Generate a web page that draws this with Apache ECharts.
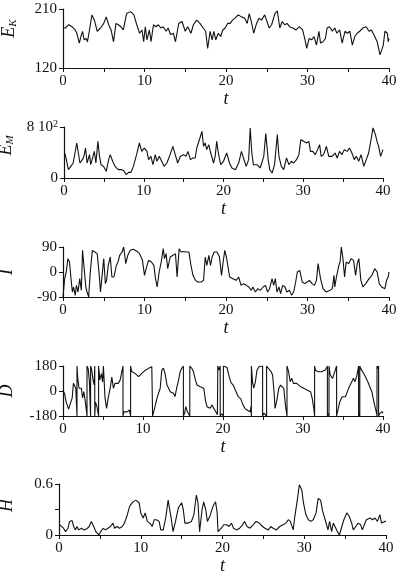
<!DOCTYPE html>
<html>
<head>
<meta charset="utf-8">
<script src="https://cdn.jsdelivr.net/npm/echarts@6/dist/echarts.min.js"></script>
<style>
  html, body { margin: 0; padding: 0; background: #fff; }
  #chart { width: 398px; height: 587px; }
</style>
</head>
<body>
<div id="chart"></div>
<script>
// time stamps and values, one pair of arrays per panel
var ekT = [0, 0.3, 0.7, 1.1, 1.5, 1.7, 2.0, 2.2, 2.4, 2.6, 2.85, 3.0, 3.25, 3.55, 3.85, 4.2, 4.6, 5.0, 5.3, 5.6, 5.9, 6.2, 6.5, 6.8, 7.1, 7.4, 7.8, 8.3, 8.7, 9.05, 9.4, 9.7, 9.9, 10.1, 10.3, 10.6, 10.8, 11.1, 11.4, 11.7, 12.0, 12.3, 12.65, 12.9, 13.2, 13.55, 13.8, 14.2, 14.6, 15.0, 15.3, 15.7, 16.0, 16.4, 16.8, 17.2, 17.5, 17.75, 18.05, 18.3, 18.5, 18.75, 19.05, 19.35, 19.6, 19.9, 20.2, 20.5, 20.8, 21.1, 21.5, 21.9, 22.3, 22.6, 22.85, 23.1, 23.4, 23.75, 24.05, 24.35, 24.75, 24.95, 25.3, 25.6, 26.0, 26.3, 26.6, 26.9, 27.2, 27.5, 27.8, 28.2, 28.6, 29.0, 29.4, 29.7, 29.9, 30.2, 30.5, 30.8, 31.1, 31.4, 31.6, 31.9, 32.2, 32.4, 32.7, 33.05, 33.35, 33.6, 33.95, 34.25, 34.6, 34.9, 35.2, 35.5, 35.8, 36.1, 36.4, 36.8, 37.2, 37.55, 37.85, 38.25, 38.55, 38.9, 39.1, 39.3, 39.5, 39.8, 39.9, 40];
var ekV = [181, 181, 186, 183, 178, 173, 158, 168, 176, 163, 165, 160, 178, 201, 193, 176, 181, 188, 198, 186, 178, 160, 188, 186, 183, 178, 203, 206, 201, 186, 173, 178, 160, 183, 163, 178, 160, 186, 183, 186, 181, 183, 176, 181, 171, 173, 160, 188, 191, 176, 183, 173, 186, 193, 188, 181, 176, 150, 176, 163, 176, 163, 173, 168, 178, 181, 188, 188, 193, 196, 201, 198, 196, 188, 203, 191, 173, 188, 196, 193, 201, 203, 181, 186, 203, 207, 181, 191, 186, 188, 183, 181, 178, 183, 178, 163, 150, 165, 163, 168, 155, 176, 158, 160, 165, 181, 183, 176, 181, 173, 178, 158, 176, 173, 176, 155, 168, 173, 176, 181, 183, 176, 178, 168, 160, 140, 139, 155, 176, 173, 160, 165];

var emT = [0.1, 0.25, 0.55, 0.85, 1.15, 1.35, 1.6, 1.8, 2.0, 2.3, 2.5, 2.7, 2.9, 3.2, 3.35, 3.55, 3.8, 4.0, 4.25, 4.45, 4.65, 4.95, 5.3, 5.6, 5.8, 6.1, 6.4, 6.8, 7.25, 7.55, 7.8, 8.1, 8.4, 8.7, 9.1, 9.45, 9.75, 10.05, 10.4, 10.6, 10.9, 11.15, 11.45, 11.65, 11.95, 12.25, 12.55, 12.9, 13.3, 13.65, 13.95, 14.25, 14.6, 15.0, 15.3, 15.55, 15.85, 16.15, 16.45, 16.65, 16.85, 17.05, 17.3, 17.5, 17.7, 17.9, 18.15, 18.4, 18.75, 18.95, 19.15, 19.35, 19.65, 20.0, 20.4, 20.75, 21.05, 21.5, 21.9, 22.25, 22.5, 22.85, 23.15, 23.35, 23.55, 23.75, 24.2, 24.6, 25.05, 25.3, 25.6, 25.8, 26.1, 26.4, 26.75, 26.95, 27.25, 27.55, 27.9, 28.2, 28.5, 28.8, 29.15, 29.45, 29.7, 30.05, 30.4, 30.7, 30.9, 31.2, 31.5, 31.8, 32.05, 32.25, 32.55, 32.9, 33.2, 33.6, 34.0, 34.25, 34.55, 34.85, 35.15, 35.5, 35.8, 36.1, 36.4, 36.65, 36.95, 37.25, 37.6, 37.9, 38.2, 38.5, 38.75, 39.05, 39.25, 39.45, 39.7, 39.9, 40];
var emV = [392, 314, 131, 183, 235, 262, 549, 523, 235, 288, 340, 471, 235, 366, 209, 235, 418, 235, 575, 340, 209, 183, 105, 288, 366, 262, 183, 131, 131, 105, 52, 89, 89, 183, 366, 549, 418, 471, 418, 288, 340, 209, 366, 262, 340, 262, 183, 235, 366, 497, 366, 235, 340, 366, 340, 418, 288, 314, 314, 471, 549, 523, 732, 497, 549, 445, 523, 392, 235, 340, 575, 392, 209, 262, 392, 235, 157, 131, 235, 418, 314, 183, 288, 785, 392, 209, 209, 157, 340, 696, 288, 131, 78, 209, 680, 340, 183, 131, 314, 209, 262, 235, 288, 366, 601, 575, 549, 575, 418, 418, 366, 445, 523, 340, 366, 497, 340, 340, 392, 314, 418, 366, 445, 418, 471, 392, 288, 340, 262, 366, 183, 288, 392, 601, 785, 680, 575, 497, 340, 366, 445];

var iT = [0, 0.2, 0.4, 0.6, 0.8, 1.0, 1.15, 1.3, 1.5, 1.65, 1.85, 2.05, 2.25, 2.4, 2.6, 2.8, 2.95, 3.15, 3.35, 3.6, 3.9, 4.2, 4.45, 4.6, 4.8, 5.0, 5.2, 5.35, 5.55, 5.8, 6.0, 6.25, 6.55, 6.75, 6.95, 7.25, 7.45, 7.7, 7.95, 8.25, 8.65, 9.1, 9.4, 9.75, 10.0, 10.2, 10.5, 10.85, 11.15, 11.35, 11.55, 11.8, 12.05, 12.3, 12.45, 12.65, 12.85, 13.15, 13.5, 13.8, 14.0, 14.25, 14.5, 14.8, 15.1, 15.45, 15.7, 15.95, 16.25, 16.55, 16.95, 17.25, 17.45, 17.65, 17.9, 18.1, 18.3, 18.55, 18.9, 19.2, 19.45, 19.65, 19.85, 20.05, 20.25, 20.45, 20.85, 21.25, 21.55, 21.85, 22.15, 22.5, 22.8, 23.1, 23.3, 23.6, 23.9, 24.2, 24.55, 24.85, 25.1, 25.35, 25.65, 25.85, 26.05, 26.25, 26.5, 26.7, 26.95, 27.25, 27.45, 27.8, 28.05, 28.3, 28.55, 28.75, 29.05, 29.35, 29.65, 29.95, 30.25, 30.55, 30.85, 31.1, 31.3, 31.6, 31.9, 32.3, 32.75, 33.05, 33.25, 33.35, 33.55, 33.85, 34.0, 34.15, 34.35, 34.55, 34.75, 35.05, 35.35, 35.65, 35.9, 36.1, 36.3, 36.55, 36.8, 37.15, 37.55, 37.9, 38.25, 38.55, 38.8, 39.1, 39.3, 39.5, 39.7, 39.9, 40];
var iV = [-90, -24, 0, 48, 36, -30, -72, -54, -84, -48, -72, -24, -66, 78, 72, -54, -72, -90, 0, 78, 72, 66, -12, -72, -12, 48, -42, -30, 24, 54, -18, -18, 24, 36, 60, 72, 90, 30, 60, 78, 82, 74, 66, 42, -12, 12, 42, 36, 24, -24, -54, 0, 36, 84, 48, 66, 12, 54, 60, 66, -18, 84, 72, 74, 72, 72, 24, -12, -30, -36, -36, -30, 54, 24, 60, 24, 54, 72, 72, 54, -12, 36, 78, 54, 18, -18, -24, -30, -18, -48, -42, -48, -54, -66, -54, -72, -60, -66, -54, -48, -72, -60, -24, -48, -24, -72, -54, -78, -48, -54, -72, -66, -84, -72, -36, 0, 6, -36, -42, -36, -30, -42, -48, -30, 30, -24, -60, -72, -66, -60, -12, -54, -18, 24, 36, 90, 48, -18, 36, 30, 48, 42, -12, 30, 48, -30, -54, -42, -24, -12, 12, 0, -42, -54, -48, -60, -30, -18, 0];

var dT = [0, 0.2, 0.4, 0.7, 0.95, 1.15, 1.3, 1.5, 1.6, 1.75, 1.75, 1.85, 2.0, 2.3, 2.45, 2.6, 2.8, 3.0, 3.0, 3.15, 3.3, 3.45, 3.45, 3.6, 3.75, 3.9, 3.97, 3.97, 4.05, 4.2, 4.35, 4.45, 4.45, 4.6, 4.8, 4.95, 5.05, 5.25, 5.45, 5.65, 5.9, 6.1, 6.3, 6.5, 6.9, 7.15, 7.35, 7.5, 7.5, 7.6, 7.75, 8.0, 8.3, 8.45, 8.45, 8.6, 9.0, 9.45, 9.85, 10.3, 10.7, 11.1, 11.2, 11.2, 11.3, 11.5, 11.8, 12.15, 12.35, 12.55, 12.75, 13.0, 13.2, 13.4, 13.6, 13.8, 14.0, 14.2, 14.45, 14.65, 14.85, 15.05, 15.05, 15.2, 15.35, 15.55, 15.85, 15.85, 16.1, 16.3, 16.55, 16.75, 17.15, 17.6, 17.8, 18.0, 18.4, 18.6, 18.8, 19.1, 19.3, 19.35, 19.35, 19.5, 19.65, 19.65, 19.85, 20.05, 20.05, 20.3, 20.5, 20.7, 21.0, 21.3, 21.6, 21.9, 22.2, 22.5, 22.8, 23.1, 23.4, 23.5, 23.55, 23.55, 23.7, 23.85, 24.05, 24.25, 24.5, 24.95, 24.95, 25.1, 25.3, 25.45, 25.45, 25.7, 26.0, 26.2, 26.4, 26.5, 26.7, 26.97, 27.2, 27.4, 27.6, 27.8, 28.0, 28.0, 28.2, 28.4, 28.6, 28.8, 29.2, 29.7, 30.1, 30.5, 30.95, 31.15, 31.35, 31.45, 31.45, 31.55, 31.9, 32.3, 32.5, 32.8, 33.05, 33.05, 33.2, 33.25, 33.25, 33.4, 33.7, 33.95, 34.2, 34.2, 34.35, 34.6, 34.9, 35.3, 35.7, 36.1, 36.3, 36.5, 36.7, 36.95, 36.95, 37.05, 37.1, 37.1, 37.2, 37.7, 38.1, 38.6, 38.95, 39.2, 39.25, 39.25, 39.35, 39.45, 39.45, 39.6, 39.9, 40];
var dV = [5, -20, -80, -130, -140, -50, 55, 65, 20, -180, 180, 90, 20, 20, -50, -5, -80, -180, 180, 160, 65, -180, 180, 150, 80, 45, 180, -180, -80, -100, -110, -180, 180, 80, 125, 65, 180, -50, -125, -50, 20, 100, 20, 55, 55, 80, 140, 180, -180, -150, -137, -150, -137, -180, 180, 140, 127, 103, 127, 150, 163, 175, 180, -180, -160, -113, -40, 20, 150, 165, 127, 43, 19, -5, 7, -17, -40, 19, 80, 140, 163, 180, -180, -160, -113, -150, -180, 180, 163, 139, 80, 43, 31, 19, -65, -113, -125, -100, -113, -150, -170, -180, 180, 150, 180, -180, -165, -180, 180, 175, 170, 120, 60, 40, 0, -40, -55, -100, -130, -140, -150, -110, -180, 180, 60, 20, 67, 150, 175, 180, -180, -160, -165, -180, 180, 170, 140, 115, -20, -125, -77, 19, 43, 40, 19, -100, -180, 180, 140, 67, 91, 55, 55, 31, 19, 7, -5, -53, -125, -180, 180, 150, 139, 139, 130, 151, 180, -180, -161, -180, 180, 115, 91, 103, 180, -180, -173, -77, -41, -41, 19, 67, 91, 67, 103, 180, -180, -160, -180, 180, 163, 115, 67, -5, -101, -161, -180, 180, 160, 180, -180, -161, -149, -160];

var hT = [0.1, 0.3, 0.55, 0.8, 1.1, 1.3, 1.6, 1.8, 2.0, 2.2, 2.4, 2.75, 3.0, 3.35, 3.7, 3.95, 4.25, 4.5, 4.7, 4.9, 5.1, 5.4, 5.7, 6.0, 6.3, 6.6, 6.8, 7.1, 7.4, 7.75, 8.0, 8.3, 8.65, 9.05, 9.4, 9.55, 9.8, 10.0, 10.3, 10.55, 10.8, 11.1, 11.4, 11.65, 11.9, 12.25, 12.45, 12.75, 13.05, 13.35, 13.55, 13.75, 13.95, 14.25, 14.6, 15.0, 15.2, 15.4, 15.8, 16.2, 16.5, 16.8, 17.0, 17.2, 17.5, 17.7, 17.95, 18.15, 18.45, 18.85, 19.15, 19.35, 19.45, 19.65, 19.85, 20.15, 20.5, 20.8, 21.1, 21.35, 21.7, 22.1, 22.45, 22.7, 23.0, 23.35, 23.75, 24.1, 24.5, 24.9, 25.2, 25.6, 25.9, 26.2, 26.6, 27.0, 27.4, 27.75, 28.05, 28.3, 28.65, 28.85, 29.15, 29.4, 29.7, 29.9, 30.2, 30.5, 30.8, 31.1, 31.45, 31.7, 32.0, 32.25, 32.5, 32.7, 32.9, 33.1, 33.35, 33.55, 33.75, 34.05, 34.3, 34.6, 34.85, 35.2, 35.5, 35.8, 36.0, 36.3, 36.6, 36.9, 37.1, 37.35, 37.6, 38.05, 38.35, 38.65, 38.95, 39.25, 39.45, 39.65, 39.85, 40];
var hV = [0.12, 0.10, 0.08, 0.04, 0.08, 0.16, 0.17, 0.10, 0.06, 0.10, 0.06, 0.08, 0.06, 0.07, 0.10, 0.16, 0.10, 0.04, 0.06, 0.0, 0.04, 0.08, 0.06, 0.08, 0.10, 0.14, 0.08, 0.10, 0.08, 0.10, 0.14, 0.22, 0.34, 0.39, 0.41, 0.43, 0.38, 0.26, 0.20, 0.26, 0.16, 0.14, 0.10, 0.18, 0.18, 0.16, 0.06, 0.06, 0.20, 0.41, 0.39, 0.18, 0.04, 0.16, 0.32, 0.38, 0.30, 0.14, 0.14, 0.16, 0.24, 0.47, 0.38, 0.04, 0.30, 0.39, 0.30, 0.16, 0.22, 0.34, 0.39, 0.26, 0.04, 0.02, 0.08, 0.12, 0.12, 0.10, 0.14, 0.08, 0.06, 0.08, 0.12, 0.16, 0.10, 0.08, 0.12, 0.16, 0.14, 0.10, 0.08, 0.06, 0.10, 0.08, 0.06, 0.10, 0.12, 0.14, 0.18, 0.16, 0.06, 0.22, 0.41, 0.59, 0.53, 0.38, 0.24, 0.18, 0.16, 0.18, 0.26, 0.43, 0.41, 0.28, 0.20, 0.18, 0.06, 0.16, 0.04, 0.14, 0.16, 0.04, 0.0, 0.10, 0.18, 0.26, 0.22, 0.14, 0.06, 0.10, 0.14, 0.12, 0.06, 0.12, 0.18, 0.20, 0.18, 0.20, 0.16, 0.24, 0.14, 0.12, 0.16, 0.16];

var xTicks = [0, 10, 20, 30, 40];

function zip(t, v) {
  var out = [];
  for (var i = 0; i < t.length; i++) out.push([t[i], v[i]]);
  return out;
}

var serif = "Liberation Serif";
var black = "#111";

// one entry per panel: grid box, y range, axis name
var panels = [
  { grid: { left: 63, right: 9, top: 9, height: 59 }, min: 120, max: 210, interval: 90,
    name: "{e|E}{s|K}", shift: 20, gap: 44, data: zip(ekT, ekV) },
  { grid: { left: 64, right: 15, top: 127, height: 51 }, min: 0, max: 800, interval: 800,
    name: "{e|E}{s|M}", shift: 14, gap: 46, data: zip(emT, emV) },
  { grid: { left: 63, right: 9, top: 247, height: 50 }, min: -90, max: 90, interval: 90,
    name: "{e|I}", shift: 0, gap: 47, data: zip(iT, iV) },
  { grid: { left: 63, right: 15, top: 366, height: 50 }, min: -180, max: 180, interval: 180,
    name: "{e|D}", shift: 0, gap: 47, data: zip(dT, dV) },
  { grid: { left: 59, right: 12, top: 484, height: 51 }, min: 0, max: 0.6, interval: 0.3,
    name: "{e|H}", shift: 8, gap: 43, data: zip(hT, hV) }
];

var chart = echarts.init(document.getElementById("chart"));

var grids = [], xAxes = [], yAxes = [], series = [];
panels.forEach(function (p, k) {
  p.grid.outerBoundsMode = "none";
  p.grid.containLabel = false;
  grids.push(p.grid);
  xAxes.push({
    gridIndex: k,
    type: "value",
    min: 0,
    max: 40,
    interval: 5,
    name: "t",
    nameLocation: "middle",
    nameGap: 20,
    nameTextStyle: { fontFamily: serif, fontStyle: "italic", fontSize: 18, color: black },
    axisLine: { onZero: false, lineStyle: { color: black, width: 1.2 } },
    axisTick: { length: 4, lineStyle: { color: black, width: 1 } },
    splitLine: { show: false },
    axisLabel: {
      margin: 6,
      fontFamily: serif,
      fontSize: 15,
      color: black,
      formatter: function (v) {
        return xTicks.indexOf(v) >= 0 ? String(v) : "";
      }
    }
  });
  yAxes.push({
    gridIndex: k,
    type: "value",
    min: p.min,
    max: p.max,
    interval: p.interval,
    name: p.name,
    nameLocation: "middle",
    nameRotate: 90,
    nameGap: p.gap,
    nameTextStyle: {
      color: black,
      padding: [0, 0, 0, p.shift],
      rich: {
        e: { fontFamily: serif, fontStyle: "italic", fontSize: 18, color: black },
        s: { fontFamily: serif, fontStyle: "italic", fontSize: 11, color: black,
             verticalAlign: "bottom", padding: [8, 0, 0, 0] }
      }
    },
    axisLine: { show: true, onZero: false, lineStyle: { color: black, width: 1.2 } },
    axisTick: { show: true, length: 4, lineStyle: { color: black, width: 1 } },
    splitLine: { show: false },
    axisLabel: {
      margin: 6,
      fontFamily: serif,
      fontSize: 15,
      color: black,
      rich: {
        n: { fontFamily: serif, fontSize: 15, color: black },
        p: { fontFamily: serif, fontSize: 10, color: black, verticalAlign: "top", padding: [0, 0, 6, 0] }
      },
      formatter: function (v) {
        if (k === 1 && v === 800) return "{n|8 10}{p|2}";
        if (k === 4 && Math.abs(v - 0.3) < 1e-6) return "";
        return String(Math.round(v * 10) / 10);
      }
    }
  });
  series.push({
    type: "line",
    xAxisIndex: k,
    yAxisIndex: k,
    data: p.data,
    showSymbol: false,
    lineStyle: { color: black, width: 1.1 },
    animation: false
  });
});

var option = {
  backgroundColor: "#fff",
  animation: false,
  grid: grids,
  xAxis: xAxes,
  yAxis: yAxes,
  series: series
};

chart.setOption(option);
</script>
</body>
</html>
